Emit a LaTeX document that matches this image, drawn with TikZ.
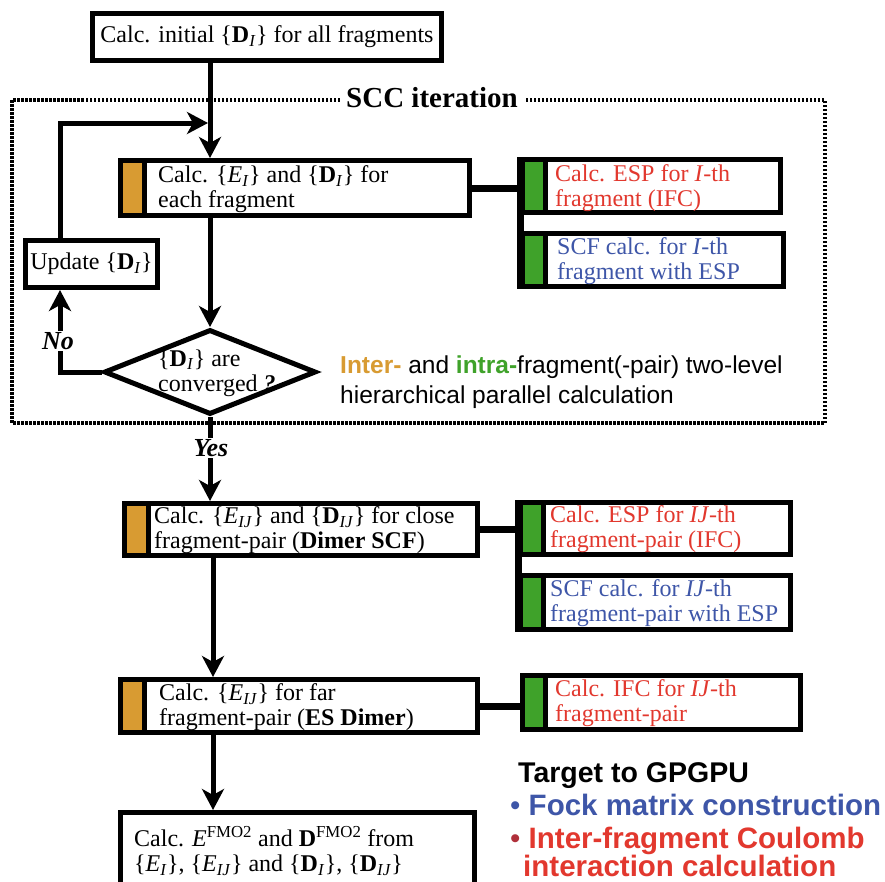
\documentclass[tikz,border=0pt]{standalone}
\usepackage{fontspec}
\setmainfont{Liberation Serif}
\setsansfont{Liberation Sans}
\usetikzlibrary{arrows.meta, shapes.geometric}
\definecolor{cOrange}{HTML}{D89B32}
\definecolor{cGreen}{HTML}{3FA22A}
\definecolor{cRed}{HTML}{E2382E}
\definecolor{cBlue}{HTML}{3E56A8}
\definecolor{cDkRed}{HTML}{B0303A}
\newcommand{\Dset}[1]{\{\textbf{D}\textsubscript{\textit{#1}}\}}
\newcommand{\Eset}[1]{\{\textit{E}\textsubscript{\textit{#1}}\}}
\newcommand{\boxsize}{\fontsize{24}{25}\selectfont\lineskiplimit-50pt\relax}
\tikzset{
    boxfont/.style={font=\boxsize},
    box/.style={draw, line width=5pt, fill=white, inner sep=0pt},
    orangebox/.style={box, path picture={
        \fill[cOrange] (path picture bounding box.north west) rectangle
                       ([xshift=24pt]path picture bounding box.south west);
        \draw[line width=5pt] ([xshift=24pt]path picture bounding box.north west) --
                              ([xshift=24pt]path picture bounding box.south west);}},
    greenbox/.style={box, path picture={
        \fill[cGreen] (path picture bounding box.north west) rectangle
                      ([xshift=23pt]path picture bounding box.south west);
        \draw[line width=5pt] ([xshift=23pt]path picture bounding box.north west) --
                              ([xshift=23pt]path picture bounding box.south west);}},
    txt/.style={boxfont, align=left, inner sep=0pt, anchor=west},
    redtxt/.style={txt, text=cRed},
    bluetxt/.style={txt, text=cBlue},
    frame/.style={line width=4pt, dash pattern=on 2.5pt off 1.5pt},
    framelbl/.style={font=\fontsize{29}{30}\selectfont\bfseries, fill=white,
                     inner xsep=6pt, inner ysep=0pt},
    flow/.style={-{Stealth[length=21pt, width=22pt, inset=6pt]}, line width=5pt},
    link/.style={line width=7pt},
    yn/.style={font=\fontsize{26}{27}\selectfont\bfseries\itshape, fill=white,
               inner sep=1pt},
    sanstxt/.style={font=\sffamily\fontsize{24.5}{30}\selectfont, align=left,
                    inner sep=0pt, anchor=west},
}

\begin{document}
\begin{tikzpicture}[x=1pt, y=-1pt]
    \useasboundingbox (0,0) rectangle (885,881);

    % SCC iteration frame
    \draw[frame] (12,100) rectangle (825,423);
    \node[framelbl] (scc) at (432,98) {SCC iteration};

    \coordinate (colA) at (210,0);
    \coordinate (colB) at (213,0);
    \coordinate (loopx) at (60,0);
    \coordinate (merge) at (208,123);

    % main column
    \node[box, boxfont, minimum width=349pt, minimum height=47pt] (init)
        at (267,37) {Calc. initial \Dset{I} for all fragments};
    \node[orangebox, minimum width=349pt, minimum height=55pt] (calcI) at (295,188) {};
    \node[txt] (calcIt) at (158,189) {Calc. \Eset{I} and \Dset{I} for\\each fragment};
    \node[box, boxfont, minimum width=132pt, minimum height=47pt] (update)
        at (91.5,264) {Update \Dset{I}};
    \node[diamond, draw, line width=5pt, fill=white, inner sep=0pt,
          minimum width=212pt, minimum height=85pt] (conv) at (210,372) {};
    \node[txt] (convt) at (158,373) {\Dset{I} are\\converged \textbf{\textit{?}}};

    \node[orangebox, minimum width=353pt, minimum height=52pt] (calcIJ) at (301,529.5) {};
    \node[txt] (calcIJt) at (154,530)
        {Calc. \Eset{IJ} and \Dset{IJ} for close\\fragment-pair (\textbf{Dimer SCF})};
    \node[orangebox, minimum width=357pt, minimum height=53pt] (calcFar) at (299,706) {};
    \node[txt] (calcFart) at (159,707)
        {Calc. \Eset{IJ} for far\\fragment-pair (\textbf{ES Dimer})};
    \node[box, minimum width=354pt, minimum height=85pt] (final) at (297.5,855) {};
    \node[txt] (finalt) at (134,851)
        {Calc. \textit{E}\textsuperscript{FMO2} and \textbf{D}\textsuperscript{FMO2} from\\
         \Eset{I}, \Eset{IJ} and \Dset{I}, \Dset{IJ}};

    % intra-fragment side
    \node[greenbox, minimum width=258pt, minimum height=53pt] (espI) at (651.5,186) {};
    \node[redtxt] (espIt) at (555,188) {Calc. ESP for \textit{I}-th\\fragment (IFC)};
    \node[greenbox, minimum width=261pt, minimum height=53pt] (scfI) at (653,260) {};
    \node[bluetxt] (scfIt) at (557,261) {SCF calc. for \textit{I}-th\\fragment with ESP};

    \node[greenbox, minimum width=270pt, minimum height=52pt] (espIJ) at (655.5,528.5) {};
    \node[redtxt] (espIJt) at (550,529) {Calc. ESP for \textit{IJ}-th\\fragment-pair (IFC)};
    \node[greenbox, minimum width=270pt, minimum height=54pt] (scfIJ) at (655.5,602.5) {};
    \node[bluetxt] (scfIJt) at (550,603) {SCF calc. for \textit{IJ}-th\\fragment-pair with ESP};

    \node[greenbox, minimum width=278pt, minimum height=54pt] (ifcIJ) at (661.5,702.5) {};
    \node[redtxt] (ifcIJt) at (555,703) {Calc. IFC for \textit{IJ}-th\\fragment-pair};

    \draw[link] (calcI.east) -- (calcI.east -| espI.west);
    \draw[link] (espI.north west) -- (scfI.south west);
    \draw[link] (calcIJ.east) -- (calcIJ.east -| espIJ.west);
    \draw[link] (espIJ.north west) -- (scfIJ.south west);
    \draw[link] (calcFar.east) -- (calcFar.east -| ifcIJ.west);

    % flow arrows
    \draw[flow] (init.south -| colA) -- (calcI.north -| colA);
    \draw[flow] (update.north -| loopx) |- (merge);
    \draw[flow] (calcI.south -| colA) -- (conv.north);
    \draw[flow] (conv.west) -| (update.south -| loopx);
    \node[yn] (no) at (58,341) {No};
    \draw[flow] (conv.south) -- (conv.south |- calcIJ.north);
    \node[yn] (yes) at (211,448) {Yes};
    \draw[flow] (calcIJ.south -| colB) -- (calcFar.north -| colB);
    \draw[flow] (calcFar.south -| colB) -- (final.north -| colB);

    \node[sanstxt] (hier) at (340,382)
        {\textbf{\textcolor{cOrange}{Inter-}} and \textbf{\textcolor{cGreen}{intra-}}fragment(-pair) two-level\\
         hierarchical parallel calculation};

    \node[font=\sffamily\bfseries\fontsize{29.5}{33}\selectfont, align=left,
          inner sep=0pt, anchor=north west] (gpgpu) at (510,762)
        {\hspace*{8pt}{\fontsize{28.5}{33}\selectfont Target to GPGPU}\\
         {\mdseries\color{cBlue}•} \textcolor{cBlue}{Fock matrix construction}\\
         {\mdseries\color{cDkRed}•} \textcolor{cRed}{Inter-fragment Coulomb}\\[-5pt]
         \hspace*{13pt}\textcolor{cRed}{interaction calculation}};
\end{tikzpicture}
\end{document}
